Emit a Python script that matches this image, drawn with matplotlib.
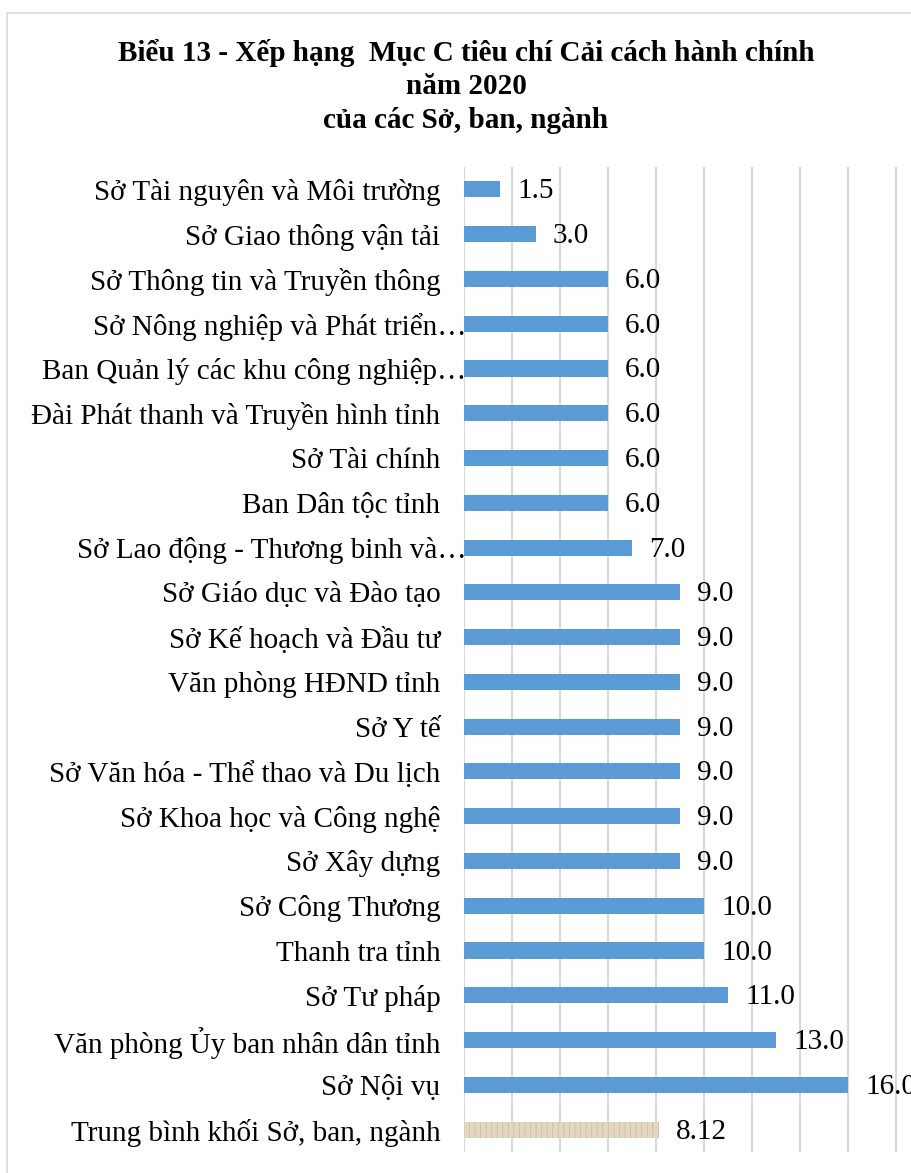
import matplotlib
matplotlib.use("Agg")
import matplotlib.pyplot as plt
import matplotlib.transforms as mtransforms
from matplotlib.patches import Rectangle

categories = [
    "Sở Tài nguyên và Môi trường",
    "Sở Giao thông vận tải",
    "Sở Thông tin và Truyền thông",
    "Sở Nông nghiệp và Phát triển…",
    "Ban Quản lý các khu công nghiệp…",
    "Đài Phát thanh và Truyền hình tỉnh",
    "Sở Tài chính",
    "Ban Dân tộc tỉnh",
    "Sở Lao động - Thương binh và…",
    "Sở Giáo dục và Đào tạo",
    "Sở Kế hoạch và Đầu tư",
    "Văn phòng HĐND tỉnh",
    "Sở Y tế",
    "Sở Văn hóa - Thể thao và Du lịch",
    "Sở Khoa học và Công nghệ",
    "Sở Xây dựng",
    "Sở Công Thương",
    "Thanh tra tỉnh",
    "Sở Tư pháp",
    "Văn phòng Ủy ban nhân dân tỉnh",
    "Sở Nội vụ",
    "Trung bình khối Sở, ban, ngành",
]
values = [1.5, 3.0, 6.0, 6.0, 6.0, 6.0, 6.0, 6.0, 7.0, 9.0, 9.0, 9.0, 9.0,
          9.0, 9.0, 9.0, 10.0, 10.0, 11.0, 13.0, 16.0, 8.12]
value_labels = ["1.5", "3.0", "6.0", "6.0", "6.0", "6.0", "6.0", "6.0", "7.0",
                "9.0", "9.0", "9.0", "9.0", "9.0", "9.0", "9.0", "10.0", "10.0",
                "11.0", "13.0", "16.0", "8.12"]
title_lines = ["Biểu 13 - Xếp hạng  Mục C tiêu chí Cải cách hành chính",
               "năm 2020",
               "của các Sở, ban, ngành"]

plt.rcParams['font.family'] = ['Liberation Serif', 'DejaVu Serif']
plt.rcParams['hatch.linewidth'] = 0.6

W, H = 912, 1173
fig = plt.figure(figsize=(W / 100, H / 100), dpi=100)

# chart border
fig.patches.append(Rectangle((7 / W, -0.05), 1.1, 1 - 13 / H + 0.05,
                             transform=fig.transFigure, fill=False,
                             edgecolor='#d9d9d9', linewidth=1.2))

ax = fig.add_axes([464 / W, 21 / H, 480 / W, 985 / H])
n = len(categories)
ypos = list(range(n))
colors = ['#5b9bd5'] * (n - 1) + ['#e2d8c2']
bars = ax.barh(ypos, values, height=0.36, color=colors, zorder=3)
bars[-1].set_hatch('|||')
bars[-1].set_edgecolor('#cbbf9f')
bars[-1].set_linewidth(0)

ax.set_xlim(0, 20)
ax.set_ylim(n - 0.5, -0.5)
ax.set_xticks(range(0, 21, 2))
ax.xaxis.grid(True, color='#d9d9d9', linewidth=1.5, zorder=0)
ax.tick_params(axis='x', length=0, labelbottom=False)
ax.tick_params(axis='y', length=0, pad=17, labelsize=21)
ax.set_yticks(ypos)
ax.set_yticklabels(categories)
for s in ax.spines.values():
    s.set_visible(False)

shift = mtransforms.ScaledTranslation(26 / 100, 0, fig.dpi_scale_trans)
for lab in ax.get_yticklabels():
    if lab.get_text().endswith("…"):
        lab.set_transform(lab.get_transform() + shift)
        lab.set_zorder(5)

for y, v, t in zip(ypos, values, value_labels):
    ax.annotate(t, (v, y), xytext=(17, -2), textcoords='offset pixels',
                ha='left', va='center', fontsize=21, color='black',
                annotation_clip=False)

for i, line in enumerate(title_lines):
    fig.text(466 / W, 1 - (53 + 34 * i) / H, line, ha='center', va='center',
             fontsize=21, fontweight='bold')

fig.savefig("out.png", dpi=100)
